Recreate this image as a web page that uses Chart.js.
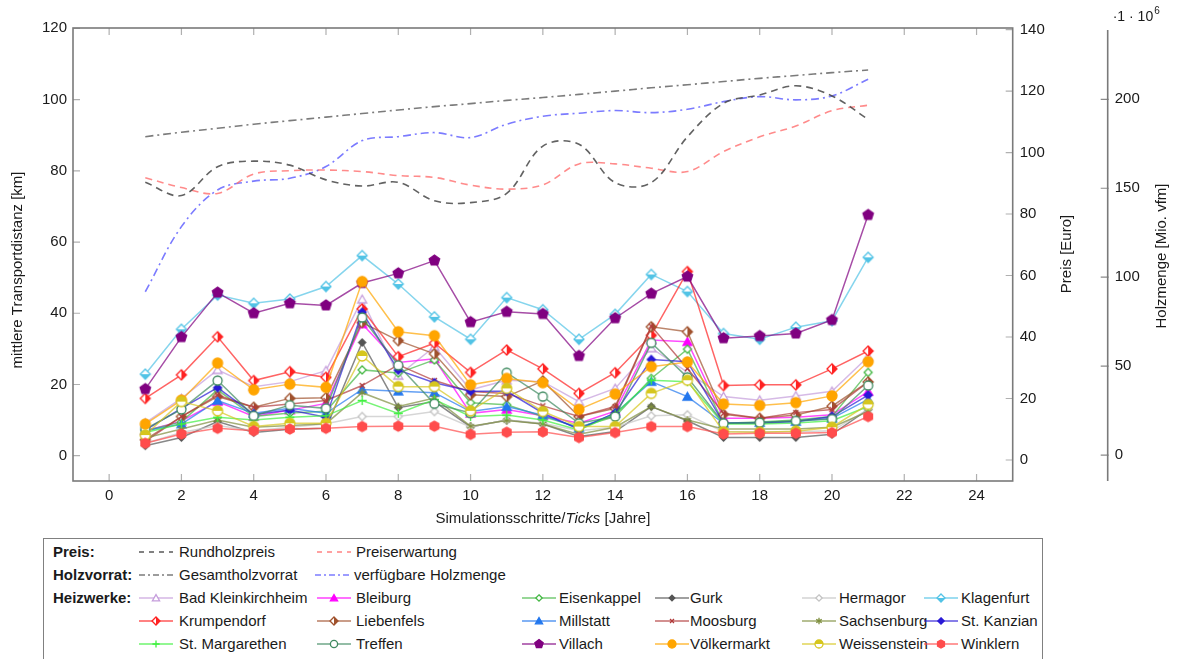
<!DOCTYPE html>
<html>
<head>
  <title>Transportdistanz</title>
  <script src="https://cdn.jsdelivr.net/npm/chart.js"></script>
  <style>
    body { margin: 0; background: #fff; }
    #wrap { position: relative; width: 1177px; height: 659px; overflow: hidden; font-family: "Liberation Sans", Arial, sans-serif; }
    #chart { position: absolute; left: 0; top: 0; }
    #box { position: absolute; left: 43px; top: 538px; width: 1000px; height: 140px; border: 1.5px solid #808080; box-sizing: border-box; }
    .lg { position: absolute; font-size: 15px; line-height: 18px; white-space: nowrap; color: #1a1a1a; }
    .smp { position: absolute; }
  </style>
</head>
<body>
<div id="wrap">
  <canvas id="chart" width="1177" height="530"></canvas>
  <div id="box"></div>
</div>

<script>
  // Zeitschritte (Jahre)
  const steps = [1, 2, 3, 4, 5, 6, 7, 8, 9, 10, 11, 12, 13, 14, 15, 16, 17, 18, 19, 20, 21];

  // Achsen-Ticks
  const xTicks = [0, 2, 4, 6, 8, 10, 12, 14, 16, 18, 20, 22, 24];
  const kmTicks = [0, 20, 40, 60, 80, 100, 120];
  const preisTicks = [0, 20, 40, 60, 80, 100, 120, 140];
  const holzTicks = [0, 50, 100, 150, 200];

  // Preis [Euro]
  const rundholzpreis = [90.3, 86.0, 95.4, 97.2, 95.9, 91.1, 89.1, 90.3, 84.3, 83.7, 86.7, 102.1, 102.7, 90.2, 90.2, 105.1, 116.0, 118.7, 121.7, 118.4, 110.8];
  const preiserwartung = [91.8, 88.6, 86.7, 93.0, 94.1, 94.3, 93.8, 92.5, 91.9, 89.4, 88.1, 89.5, 96.3, 96.3, 94.9, 93.8, 100.3, 105.1, 108.6, 113.6, 115.4];

  // Holzmenge [Mio. vfm]
  const gesamtholzvorrat = [179.0, 181.5, 183.7, 186.0, 188.0, 190.0, 192.0, 194.0, 195.9, 197.6, 199.4, 201.0, 202.8, 204.6, 206.5, 208.2, 210.0, 211.8, 213.4, 215.0, 216.5];
  const verfuegbareHolzmenge = [91.8, 128.4, 149.0, 154.0, 155.6, 162.2, 176.8, 179.0, 181.3, 178.5, 186.0, 190.5, 192.2, 193.7, 192.5, 194.4, 198.7, 201.5, 199.7, 201.9, 211.3];

  // mittlere Transportdistanz [km] je Heizwerk
  const badKleinkirchheim = [9.2, 16.1, 24.1, 19.4, 20.8, 23.9, 43.9, 22.5, 30.6, 18.5, 21.2, 20.8, 15.2, 18.9, 30.2, 23.5, 16.6, 15.6, 16.8, 18.1, 27.8];
  const bleiburg = [7.0, 9.7, 15.2, 11.0, 12.8, 14.7, 37.0, 26.2, 27.2, 11.9, 13.0, 11.2, 9.1, 12.5, 32.5, 32.0, 10.5, 10.5, 10.8, 11.5, 18.0];
  const eisenkappel = [7.0, 9.5, 18.5, 11.0, 12.0, 12.5, 24.1, 23.2, 26.9, 14.9, 14.3, 11.0, 8.0, 11.0, 21.7, 29.9, 9.1, 9.5, 10.0, 11.0, 23.4];
  const gurk = [2.8, 5.1, 9.6, 6.5, 7.4, 7.7, 31.8, 13.5, 15.2, 8.1, 10.0, 8.9, 5.4, 6.8, 13.8, 9.8, 5.1, 5.1, 5.1, 6.0, 13.0];
  const hermagor = [3.5, 6.5, 8.5, 7.0, 8.0, 9.0, 11.0, 11.0, 12.4, 8.1, 10.0, 9.1, 7.0, 8.0, 11.2, 11.5, 6.7, 6.7, 6.7, 7.0, 13.0];
  const klagenfurt = [22.9, 35.5, 45.1, 42.8, 44.0, 47.5, 56.2, 48.2, 39.0, 32.7, 44.4, 41.0, 32.7, 39.7, 50.9, 46.1, 34.3, 32.7, 36.1, 37.9, 55.7];
  const krumpendorf = [16.1, 22.7, 33.4, 21.1, 23.6, 22.0, 41.2, 27.8, 31.6, 23.4, 29.7, 24.4, 17.5, 23.3, 33.8, 51.7, 19.7, 19.9, 19.9, 24.4, 29.4];
  const liebenfels = [4.5, 11.0, 16.6, 13.6, 16.1, 16.3, 37.4, 32.3, 28.6, 17.1, 16.6, 21.0, 11.0, 13.3, 36.2, 34.8, 11.6, 10.5, 11.4, 13.9, 20.7];
  const millstatt = [7.0, 8.9, 15.5, 11.9, 13.3, 11.9, 18.6, 18.1, 17.7, 12.4, 13.8, 11.4, 7.7, 11.9, 20.8, 16.6, 9.1, 9.3, 9.6, 10.5, 15.8];
  const moosburg = [4.0, 11.0, 17.0, 13.6, 14.5, 15.5, 19.7, 25.5, 21.1, 18.0, 17.5, 14.0, 11.0, 13.8, 36.4, 24.5, 11.9, 10.5, 12.1, 13.0, 20.7];
  const sachsenburg = [5.0, 7.5, 10.0, 8.0, 8.5, 9.0, 17.7, 13.8, 16.2, 8.3, 9.9, 8.9, 6.0, 8.0, 13.8, 10.0, 7.5, 7.5, 7.5, 8.0, 12.4];
  const stKanzian = [7.2, 13.3, 19.1, 11.6, 12.8, 10.8, 40.3, 24.0, 20.5, 18.1, 18.1, 12.0, 7.4, 12.0, 27.0, 26.4, 9.1, 9.1, 9.6, 11.0, 17.0];
  const stMargarethen = [6.5, 8.9, 10.8, 10.0, 10.8, 11.2, 15.5, 11.9, 15.8, 11.0, 11.4, 10.0, 7.2, 11.7, 21.2, 20.8, 8.9, 8.9, 9.2, 9.8, 13.8];
  const treffen = [7.5, 13.0, 21.1, 11.2, 14.2, 13.3, 38.8, 25.4, 14.6, 12.0, 23.3, 16.6, 9.1, 11.0, 31.7, 22.0, 9.1, 9.3, 9.8, 10.3, 19.7];
  const villach = [18.7, 33.3, 45.8, 40.0, 42.8, 42.2, 48.5, 51.2, 54.8, 37.5, 40.4, 39.8, 28.0, 38.6, 45.5, 50.3, 33.0, 33.6, 34.3, 38.1, 67.6];
  const voelkermarkt = [8.9, 15.6, 26.0, 18.5, 20.1, 19.2, 48.9, 34.8, 33.7, 19.9, 21.7, 20.5, 13.0, 17.3, 25.0, 26.3, 14.5, 14.1, 14.9, 16.8, 26.4];
  const weissenstein = [5.8, 15.2, 12.6, 8.2, 9.1, 9.1, 28.0, 19.4, 19.4, 12.6, 18.9, 12.4, 8.2, 8.2, 17.5, 21.2, 6.7, 6.6, 6.9, 8.0, 14.4];
  const winklern = [3.5, 6.1, 7.7, 7.0, 7.5, 7.7, 8.2, 8.3, 8.3, 6.0, 6.6, 6.7, 5.1, 6.5, 8.2, 8.2, 6.1, 6.3, 6.3, 6.5, 11.0];

  const heizwerke = [
    ['Bad Kleinkirchheim', badKleinkirchheim], ['Bleiburg', bleiburg], ['Eisenkappel', eisenkappel],
    ['Gurk', gurk], ['Hermagor', hermagor], ['Klagenfurt', klagenfurt],
    ['Krumpendorf', krumpendorf], ['Liebenfels', liebenfels], ['Millstatt', millstatt],
    ['Moosburg', moosburg], ['Sachsenburg', sachsenburg], ['St. Kanzian', stKanzian],
    ['St. Margarethen', stMargarethen], ['Treffen', treffen], ['Villach', villach],
    ['Völkermarkt', voelkermarkt], ['Weissenstein', weissenstein], ['Winklern', winklern]
  ];

  // Farbe, Marker, Füllung, Radius
  const styles = {
    'Bad Kleinkirchheim': ['#c59ddc', 'triangle', 'open', 4.5],
    'Bleiburg': ['#ff00ff', 'triangle', 'full', 4.5],
    'Eisenkappel': ['#45b845', 'diamond', 'open', 4],
    'Gurk': ['#555555', 'diamond', 'full', 3.5],
    'Hermagor': ['#c4c4c4', 'diamond', 'open', 4],
    'Klagenfurt': ['#52c3e6', 'diamond', 'halfBottom', 5],
    'Krumpendorf': ['#ff2222', 'diamond', 'halfRight', 5],
    'Liebenfels': ['#a0522d', 'diamond', 'halfRight', 5],
    'Millstatt': ['#2277ee', 'triangle', 'full', 4.5],
    'Moosburg': ['#b03a3a', 'x', 'line', 3.5],
    'Sachsenburg': ['#7f8f3f', 'star', 'line', 4],
    'St. Kanzian': ['#2a1ad6', 'diamond', 'full', 4],
    'St. Margarethen': ['#3ef03e', 'plus', 'line', 4.5],
    'Treffen': ['#3f8a60', 'circle', 'open', 4.5],
    'Villach': ['#800080', 'pentagon', 'full', 5.5],
    'Völkermarkt': ['#ffa500', 'circle', 'full', 5],
    'Weissenstein': ['#d6c61e', 'circle', 'halfTop', 5],
    'Winklern': ['#ff4c4c', 'hexagon', 'full', 5]
  };

  function alpha(hex, a) {
    const n = parseInt(hex.slice(1), 16);
    return 'rgba(' + (n >> 16) + ',' + ((n >> 8) & 255) + ',' + (n & 255) + ',' + a + ')';
  }

  function shapePath(ctx, shape, x, y, r) {
    ctx.beginPath();
    if (shape === 'circle') {
      ctx.arc(x, y, r, 0, Math.PI * 2);
    } else {
      const n = { triangle: 3, diamond: 4, pentagon: 5, hexagon: 6 }[shape];
      const rr = shape === 'triangle' ? r * 1.15 : r;
      for (let i = 0; i < n; i++) {
        const a = -Math.PI / 2 + i * 2 * Math.PI / n;
        const px = x + rr * Math.cos(a), py = y + rr * Math.sin(a) + (shape === 'triangle' ? r * 0.2 : 0);
        if (i === 0) ctx.moveTo(px, py); else ctx.lineTo(px, py);
      }
    }
    ctx.closePath();
  }

  function drawMarker(ctx, shape, fill, color, x, y, r) {
    ctx.save();
    ctx.setLineDash([]);
    ctx.lineWidth = 1.3;
    ctx.strokeStyle = color;
    ctx.fillStyle = color;
    if (fill === 'line') {
      let angles = [];
      if (shape === 'plus') angles = [0, 90];
      if (shape === 'x') angles = [45, 135];
      if (shape === 'star') angles = [90, 30, 150];
      ctx.beginPath();
      angles.forEach(d => {
        const a = d * Math.PI / 180;
        ctx.moveTo(x - r * Math.cos(a), y - r * Math.sin(a));
        ctx.lineTo(x + r * Math.cos(a), y + r * Math.sin(a));
      });
      ctx.stroke();
    } else if (fill === 'full') {
      shapePath(ctx, shape, x, y, r);
      ctx.fill();
      ctx.stroke();
    } else {
      shapePath(ctx, shape, x, y, r);
      ctx.fillStyle = '#fff';
      ctx.fill();
      if (fill !== 'open') {
        ctx.save();
        ctx.clip();
        ctx.fillStyle = color;
        if (fill === 'halfRight') ctx.fillRect(x, y - r - 2, r + 2, 2 * r + 4);
        if (fill === 'halfBottom') ctx.fillRect(x - r - 2, y, 2 * r + 4, r + 2);
        if (fill === 'halfTop') ctx.fillRect(x - r - 2, y - r - 2, 2 * r + 4, r + 2);
        ctx.restore();
      }
      shapePath(ctx, shape, x, y, r);
      ctx.stroke();
    }
    ctx.restore();
  }

  function pointCanvas(name) {
    const [color, shape, fill, r] = styles[name];
    const c = document.createElement('canvas');
    const s = Math.ceil(2 * r + 4);
    c.width = s; c.height = s;
    drawMarker(c.getContext('2d'), shape, fill, color, s / 2, s / 2, r);
    return c;
  }

  const xy = arr => arr.map((v, i) => ({ x: steps[i], y: v }));

  const datasets = [
    { label: 'Rundholzpreis', data: xy(rundholzpreis), yAxisID: 'yP', borderColor: 'rgba(70,70,70,0.85)', borderDash: [7, 5], tension: 0.35, pointRadius: 0, borderWidth: 1.6 },
    { label: 'Preiserwartung', data: xy(preiserwartung), yAxisID: 'yP', borderColor: 'rgba(255,110,110,0.8)', borderDash: [7, 5], tension: 0.35, pointRadius: 0, borderWidth: 1.6 },
    { label: 'Gesamtholzvorrat', data: xy(gesamtholzvorrat), yAxisID: 'yH', borderColor: 'rgba(90,90,90,0.8)', borderDash: [8, 4, 2, 4], tension: 0.35, pointRadius: 0, borderWidth: 1.6 },
    { label: 'verfügbare Holzmenge', data: xy(verfuegbareHolzmenge), yAxisID: 'yH', borderColor: 'rgba(90,90,255,0.8)', borderDash: [8, 4, 2, 4], tension: 0.35, pointRadius: 0, borderWidth: 1.6 }
  ];
  heizwerke.forEach(([name, arr], k) => {
    const st = styles[name];
    datasets.push({
      label: name, data: xy(arr), yAxisID: 'y', order: -k - 1,
      borderColor: alpha(st[0], 0.7), borderWidth: 1.5, tension: 0,
      pointStyle: pointCanvas(name), pointRadius: st[3]
    });
  });

  const FONT = '"Liberation Sans", Arial, sans-serif';
  const tickFont = { family: FONT, size: 15 };
  const AREA = { left: 73, top: 28, bottom: 481 };
  const noGrid = { display: false, drawTicks: false };

  const setTicks = list => scale => { scale.ticks = list.map(v => ({ value: v })); };

  const framePlugin = {
    id: 'frame',
    beforeDatasetsDraw(chart) {
      const { ctx, chartArea: a, scales } = chart;
      ctx.save();
      ctx.strokeStyle = '#b0b0b0';
      ctx.lineWidth = 1.2;
      ctx.beginPath();
      xTicks.forEach(v => {
        const px = scales.x.getPixelForValue(v);
        ctx.moveTo(px, a.bottom); ctx.lineTo(px, a.bottom - 7);
        ctx.moveTo(px, a.top); ctx.lineTo(px, a.top + 7);
      });
      kmTicks.forEach(v => {
        const py = scales.y.getPixelForValue(v);
        ctx.moveTo(a.left, py); ctx.lineTo(a.left + 7, py);
      });
      preisTicks.forEach(v => {
        const py = scales.yP.getPixelForValue(v);
        ctx.moveTo(a.right, py); ctx.lineTo(a.right - 7, py);
      });
      ctx.stroke();
      ctx.strokeStyle = '#8a8a8a';
      ctx.beginPath();
      const hx = scales.yH.left;
      holzTicks.forEach(v => {
        const py = scales.yH.getPixelForValue(v);
        ctx.moveTo(hx - 7, py); ctx.lineTo(hx + 1, py);
      });
      ctx.stroke();
      ctx.strokeStyle = '#7a7a7a';
      ctx.lineWidth = 1.6;
      ctx.strokeRect(a.left, a.top, a.right - a.left, a.bottom - a.top);
      ctx.beginPath();
      ctx.moveTo(hx, a.top + 2); ctx.lineTo(hx, a.bottom);
      ctx.stroke();
      ctx.restore();
    },
    afterDraw(chart) {
      const { ctx, chartArea: a, scales } = chart;
      ctx.save();
      ctx.fillStyle = '#1a1a1a';
      ctx.textAlign = 'center';
      ctx.textBaseline = 'middle';
      ctx.font = '15px ' + FONT;
      const vtext = (t, x, y) => {
        ctx.save(); ctx.translate(x, y); ctx.rotate(-Math.PI / 2); ctx.fillText(t, 0, 0); ctx.restore();
      };
      vtext('mittlere Transportdistanz [km]', 18, 270);
      vtext('Preis [Euro]', 1067, 254);
      vtext('Holzmenge [Mio. vfm]', 1162, 256);

      // x-Achsentitel mit kursivem "Ticks"
      const parts = [['Simulationsschritte/', ''], ['Ticks', 'italic '], [' [Jahre]', '']];
      let total = 0;
      parts.forEach(p => { ctx.font = p[1] + '15px ' + FONT; total += ctx.measureText(p[0]).width; });
      let x = (a.left + a.right) / 2 - total / 2;
      ctx.textAlign = 'left';
      parts.forEach(p => {
        ctx.font = p[1] + '15px ' + FONT;
        ctx.fillText(p[0], x, 519);
        x += ctx.measureText(p[0]).width;
      });

      // Exponent der Holzmenge-Achse
      ctx.font = '14px ' + FONT;
      const ex = scales.yH.left + 5;
      ctx.fillText('\u00b71 \u00b7 10', ex, 17);
      const w = ctx.measureText('\u00b71 \u00b7 10').width;
      ctx.font = '10px ' + FONT;
      ctx.fillText('6', ex + w + 1, 11);
      ctx.restore();
    }
  };

  new Chart(document.getElementById('chart').getContext('2d'), {
    type: 'line',
    data: { datasets: datasets },
    options: {
      responsive: false,
      animation: false,
      events: [],
      layout: { padding: { top: AREA.top, left: 0, right: 0, bottom: 0 } },
      plugins: { legend: { display: false }, tooltip: { enabled: false } },
      scales: {
        x: {
          type: 'linear', min: -1, max: 25,
          grid: noGrid, border: { display: false },
          afterBuildTicks: setTicks(xTicks),
          afterFit: s => { s.height = 530 - AREA.bottom; },
          ticks: { font: tickFont, color: '#1a1a1a', padding: 6, maxRotation: 0, autoSkip: false }
        },
        y: {
          position: 'left', min: -7.1, max: 120.1,
          grid: noGrid, border: { display: false },
          afterBuildTicks: setTicks(kmTicks),
          afterFit: s => { s.width = AREA.left; },
          ticks: { font: tickFont, color: '#1a1a1a', padding: 6 }
        },
        yP: {
          position: 'right', weight: 0, min: -6.83, max: 140.5,
          grid: noGrid, border: { display: false },
          afterBuildTicks: setTicks(preisTicks),
          afterFit: s => { s.width = 95; },
          ticks: { font: tickFont, color: '#1a1a1a', padding: 7 }
        },
        yH: {
          position: 'right', weight: 1, min: -14.6, max: 240.1,
          grid: noGrid, border: { display: false },
          afterBuildTicks: setTicks(holzTicks),
          afterFit: s => { s.width = 1177 - 1012.7 - 95; },
          ticks: { font: tickFont, color: '#1a1a1a', padding: 7 }
        }
      }
    },
    plugins: [framePlugin]
  });

  // Legende
  const wrap = document.getElementById('wrap');
  const cols = [[139, 179], [317, 356], [522, 559], [655, 690], [802, 839], [924, 961]];
  const rowY = [552, 575, 598, 621, 644];

  function addText(t, x, y, bold) {
    const s = document.createElement('span');
    s.className = 'lg';
    s.style.left = x + 'px';
    s.style.top = (y - 9) + 'px';
    if (bold) s.style.fontWeight = 'bold';
    s.textContent = t;
    wrap.appendChild(s);
  }
  function addSample(x, y, color, dash, name) {
    const c = document.createElement('canvas');
    c.className = 'smp';
    c.width = 34; c.height = 16;
    c.style.left = x + 'px';
    c.style.top = (y - 8) + 'px';
    const g = c.getContext('2d');
    g.strokeStyle = color;
    g.lineWidth = 1.6;
    g.setLineDash(dash);
    g.beginPath(); g.moveTo(0, 8); g.lineTo(34, 8); g.stroke();
    if (name) {
      const st = styles[name];
      drawMarker(g, st[1], st[2], st[0], 17, 8, st[3] * 0.8);
    }
    wrap.appendChild(c);
  }

  addText('Preis:', 53, rowY[0], true);
  addSample(cols[0][0], rowY[0], 'rgba(70,70,70,0.85)', [5, 5]);
  addText('Rundholzpreis', cols[0][1], rowY[0]);
  addSample(cols[1][0], rowY[0], 'rgba(255,110,110,0.8)', [5, 5]);
  addText('Preiserwartung', cols[1][1], rowY[0]);

  addText('Holzvorrat:', 53, rowY[1], true);
  addSample(cols[0][0], rowY[1], 'rgba(90,90,90,0.8)', [6, 3, 2, 3]);
  addText('Gesamtholzvorrat', cols[0][1], rowY[1]);
  addSample(cols[1][0] - 2, rowY[1], 'rgba(90,90,255,0.8)', [6, 3, 2, 3]);
  addText('verfügbare Holzmenge', cols[1][1] - 2, rowY[1]);

  addText('Heizwerke:', 53, rowY[2], true);
  heizwerke.forEach(([name], k) => {
    const row = rowY[2 + Math.floor(k / 6)];
    const col = cols[k % 6];
    addSample(col[0], row, alpha(styles[name][0], 0.75), [], name);
    addText(name, col[1], row);
  });
</script>
</body>
</html>
